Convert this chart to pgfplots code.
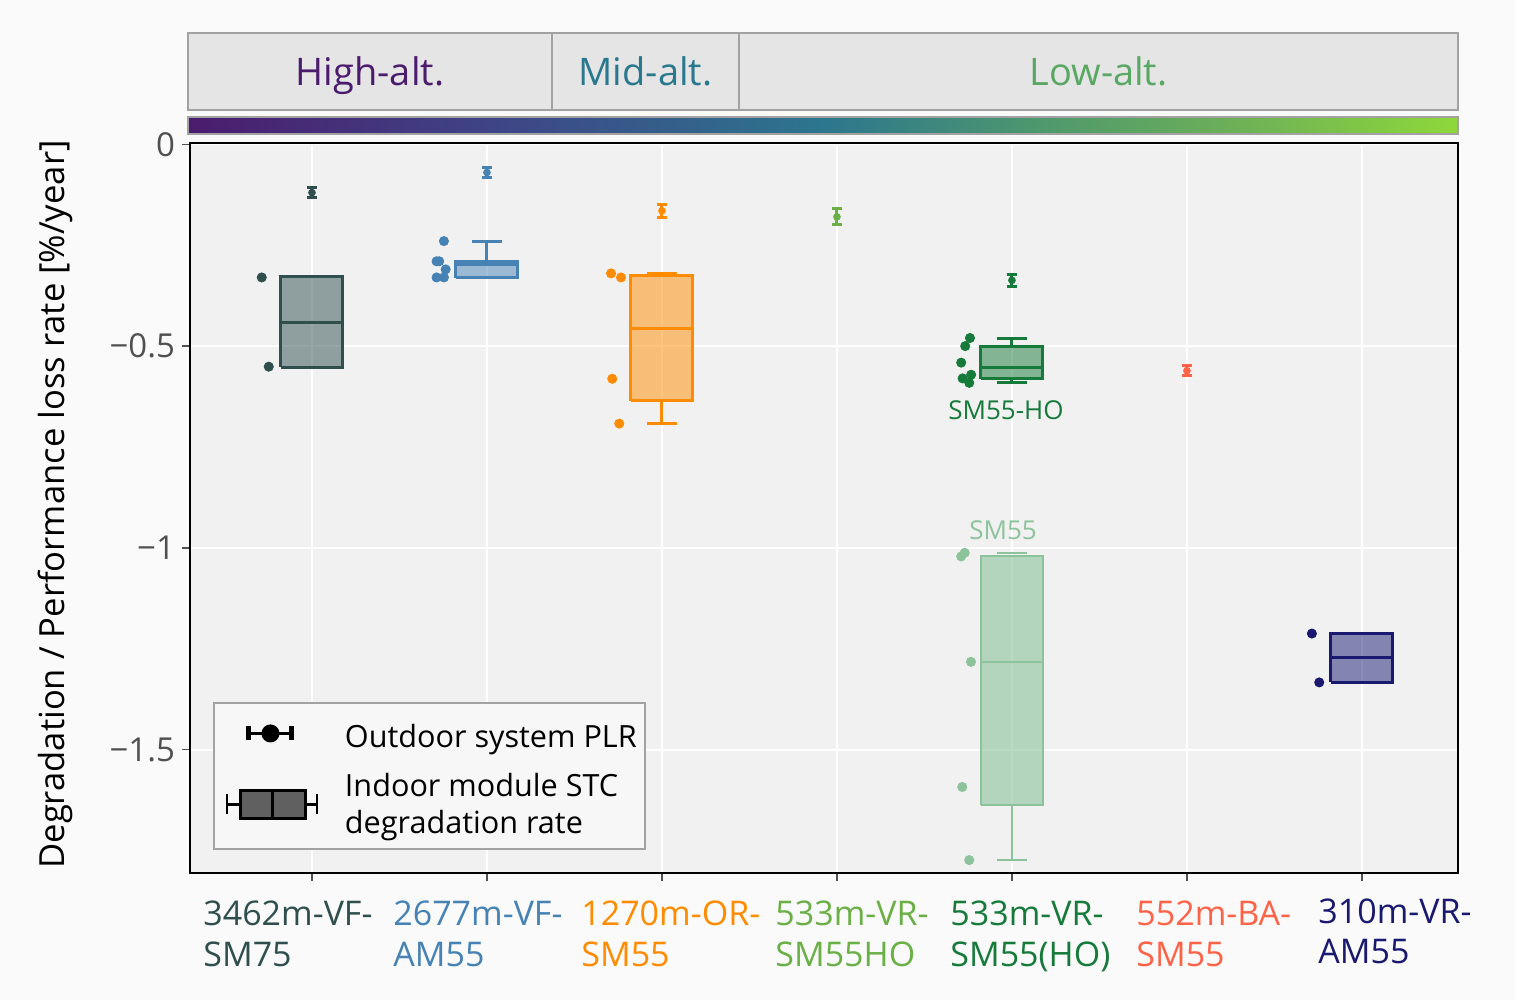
\documentclass[border=0pt]{standalone}
\usepackage{fontspec}
\setmainfont{Open Sans}
\usepackage{pgfplots}
\pgfplotsset{compat=1.18}

\definecolor{plotbg}{RGB}{241,241,241}
\definecolor{pagebg}{RGB}{250,250,250}
\definecolor{hdrbg}{RGB}{229,229,229}
\definecolor{hdrln}{RGB}{162,162,162}
\definecolor{legbg}{RGB}{247,247,247}
\definecolor{tickc}{RGB}{80,80,80}
\definecolor{cA}{RGB}{47,79,79}
\definecolor{cB}{RGB}{70,130,180}
\definecolor{cC}{RGB}{255,140,0}
\definecolor{cD}{RGB}{106,176,70}
\definecolor{cE}{RGB}{22,122,58}
\definecolor{cEl}{RGB}{140,195,155}
\definecolor{cF}{RGB}{255,99,71}
\definecolor{cG}{RGB}{25,25,112}
\definecolor{hiC}{RGB}{75,28,110}
\definecolor{miC}{RGB}{42,120,142}
\definecolor{loC}{RGB}{88,168,100}

% colour bar above the panel (purple -> lime)
\pgfdeclarehorizontalshading{altbar}{100bp}{%
  rgb(0bp)=(0.294,0.110,0.431); rgb(25bp)=(0.294,0.110,0.431);
  rgb(37.5bp)=(0.243,0.275,0.529); rgb(50bp)=(0.173,0.463,0.557);
  rgb(58.5bp)=(0.306,0.596,0.431); rgb(66bp)=(0.424,0.686,0.345);
  rgb(75bp)=(0.557,0.847,0.227); rgb(100bp)=(0.557,0.847,0.227)}

\newcommand{\catfont}{\fontsize{17}{20}\selectfont}

\pgfplotsset{
  box/.style={line width=1.5pt, fill=#1, fill opacity=0.5, draw=#1, line join=miter},
  wsk/.style={line width=1.5pt, draw=#1, unbounded coords=jump},
  pts/.style={only marks, mark=*, mark size=2.3pt, color=#1},
  plr/.style={color=#1, only marks, mark=*, mark size=1.7pt,
    error bars/.cd, y dir=both, y explicit,
    error bar style={line width=1.5pt, #1},
    error mark options={rotate=90, mark size=2.7pt, line width=1.5pt, #1}},
}

\begin{document}
\begin{tikzpicture}
\useasboundingbox (-95pt,-63.5pt) rectangle (662.5pt,436.5pt);
\fill[pagebg] (-95pt,-63.5pt) rectangle (662.5pt,436.5pt);

\begin{axis}[
    at={(0,0)}, anchor=south west,
    scale only axis, width=634pt, height=365pt,
    xmin=-0.697, xmax=6.549,
    ymin=-1.805, ymax=0.003,
    axis background/.style={fill=plotbg},
    axis line style={black, line width=1.25pt},
    grid=major,
    major grid style={white, line width=1pt},
    xtick={0,1,2,3,4,5,6}, xticklabels={},
    ytick={-1.5,-1,-0.5,0},
    yticklabels={−1.5,−1,−0.5,0},
    xtick pos=left, ytick pos=left,
    tick align=outside, major tick length=4pt,
    tick style={tickc, line width=0.6pt},
    yticklabel style={font=\fontsize{16.5}{20}\selectfont, text=tickc},
    clip=false,
    legend style={at={(axis description cs:0.0181,0.0315)}, anchor=south west,
        fill=legbg, draw=hdrln, line width=1pt,
        font=\fontsize{15.3}{18.5}\selectfont,
        inner xsep=2pt, inner ysep=4.5pt, row sep=7pt},
    legend cell align=left,
]

% legend symbols
\addlegendimage{legend image code/.code={
    \path[draw=none, fill=none] (-4.5pt,-7pt) rectangle (57pt,7pt);
    \draw[black, line width=1.5pt] (11pt,0pt) -- (32.5pt,0pt);
    \draw[black, line width=2.5pt] (11pt,-3.5pt) -- (11pt,3.5pt);
    \draw[black, line width=2.5pt] (32.5pt,-3.5pt) -- (32.5pt,3.5pt);
    \fill[black] (21.75pt,0pt) circle (4pt);
}}
\addlegendentry{\rule{0pt}{15.8pt}Outdoor system PLR}
\addlegendimage{legend image code/.code={
    \path[draw=none, fill=none] (-4.5pt,-7pt) rectangle (57pt,7pt);
    \draw[black, line width=1.2pt] (0pt,-5pt) -- (0pt,5pt) (0pt,0pt) -- (7pt,0pt)
        (39.5pt,0pt) -- (45pt,0pt) (45pt,-5pt) -- (45pt,5pt);
    \draw[black, line width=1.5pt, fill={rgb,255:red,96;green,96;blue,96}] (7pt,-7pt) rectangle (39.5pt,7pt);
    \draw[black, line width=1.5pt] (23pt,-7pt) -- (23pt,7pt);
}}
\addlegendentry[align=left]{Indoor module STC\\degradation rate}

% ---- 3462m-VF-SM75  (box q1=-0.553, median=-0.441, q3=-0.328)
\addplot[box=cA] coordinates {(-0.177,-0.553) (0.177,-0.553) (0.177,-0.328) (-0.177,-0.328) (-0.177,-0.553)};
\addplot[wsk=cA] coordinates {(-0.177,-0.441) (0.177,-0.441)};
\addplot[pts=cA] coordinates {(-0.287,-0.330) (-0.247,-0.551)};
\addplot[plr=cA] coordinates {(0,-0.120) +- (0,0.012)};

% ---- 2677m-VF-AM55  (q1=-0.331, median=-0.298, q3=-0.290, upper whisker=-0.240)
\addplot[box=cB] coordinates {(0.823,-0.331) (1.177,-0.331) (1.177,-0.290) (0.823,-0.290) (0.823,-0.331)};
\addplot[wsk=cB] coordinates {(0.823,-0.298) (1.177,-0.298) (nan,nan)
    (1,-0.290) (1,-0.240) (nan,nan) (0.915,-0.240) (1.085,-0.240)};
\addplot[pts=cB] coordinates {
    (0.754,-0.240) (0.712,-0.290) (0.727,-0.290) (0.764,-0.310) (0.712,-0.330) (0.754,-0.330)};
\addplot[plr=cB] coordinates {(1,-0.070) +- (0,0.012)};

% ---- 1270m-OR-SM55  (whiskers -0.692 / -0.320, q1=-0.636, median=-0.456, q3=-0.324)
\addplot[box=cC] coordinates {(1.823,-0.636) (2.177,-0.636) (2.177,-0.324) (1.823,-0.324) (1.823,-0.636)};
\addplot[wsk=cC] coordinates {(1.823,-0.456) (2.177,-0.456) (nan,nan)
    (2,-0.636) (2,-0.692) (nan,nan) (1.915,-0.692) (2.085,-0.692) (nan,nan)
    (1.915,-0.320) (2.085,-0.320)};
\addplot[pts=cC] coordinates {(1.709,-0.320) (1.766,-0.330) (1.716,-0.581) (1.756,-0.692)};
\addplot[plr=cC] coordinates {(2,-0.165) +- (0,0.016)};

% ---- 533m-VR-SM55HO
\addplot[plr=cD] coordinates {(3,-0.180) +- (0,0.020)};

% ---- 533m-VR-SM55(HO): SM55 (light), whiskers -1.773 / -1.012
\addplot[box=cEl, line width=1pt, fill opacity=0.6] coordinates {
    (3.823,-1.637) (4.177,-1.637) (4.177,-1.020) (3.823,-1.020) (3.823,-1.637)};
\addplot[wsk=cEl, line width=1pt] coordinates {(3.823,-1.283) (4.177,-1.283) (nan,nan)
    (4,-1.637) (4,-1.773) (nan,nan) (3.915,-1.773) (4.085,-1.773) (nan,nan)
    (3.915,-1.012) (4.085,-1.012)};
\addplot[pts=cEl] coordinates {(3.710,-1.021) (3.730,-1.012) (3.766,-1.282) (3.716,-1.592) (3.756,-1.773)};
% SM55-HO, whiskers -0.591 / -0.480
\addplot[box=cE] coordinates {(3.823,-0.581) (4.177,-0.581) (4.177,-0.500) (3.823,-0.500) (3.823,-0.581)};
\addplot[wsk=cE] coordinates {(3.823,-0.554) (4.177,-0.554) (nan,nan)
    (4,-0.500) (4,-0.480) (nan,nan) (3.915,-0.480) (4.085,-0.480) (nan,nan)
    (4,-0.581) (4,-0.591) (nan,nan) (3.915,-0.591) (4.085,-0.591)};
\addplot[pts=cE] coordinates {
    (3.760,-0.480) (3.733,-0.500) (3.710,-0.541) (3.718,-0.580) (3.767,-0.571) (3.756,-0.591)};
\addplot[plr=cE] coordinates {(4,-0.337) +- (0,0.015)};
\node[text=cE, font=\fontsize{13}{15}\selectfont] at (axis cs:3.966,-0.658) {SM55-HO};
\node[text=cEl, font=\fontsize{13}{15}\selectfont] at (axis cs:3.949,-0.955) {SM55};

% ---- 552m-BA-SM55
\addplot[plr=cF] coordinates {(5,-0.561) +- (0,0.012)};

% ---- 310m-VR-AM55  (q1=-1.333, median=-1.271, q3=-1.212)
\addplot[box=cG] coordinates {(5.823,-1.333) (6.177,-1.333) (6.177,-1.212) (5.823,-1.212) (5.823,-1.333)};
\addplot[wsk=cG] coordinates {(5.823,-1.271) (6.177,-1.271)};
\addplot[pts=cG] coordinates {(5.714,-1.212) (5.756,-1.333)};

\end{axis}

% header: altitude groups and colour bar
\draw[hdrln, line width=1pt, fill=hdrbg] (-1pt,381.5pt) rectangle (634pt,420pt);
\draw[hdrln, line width=1pt] (181pt,381.5pt) -- (181pt,420pt) (274.5pt,381.5pt) -- (274.5pt,420pt);
\node[anchor=base, text=hiC, font=\fontsize{19}{22}\selectfont] at (90pt,393.6pt) {High-alt.};
\node[anchor=base, text=miC, font=\fontsize{19}{22}\selectfont] at (227.75pt,393.6pt) {Mid-alt.};
\node[anchor=base, text=loC, font=\fontsize{19}{22}\selectfont] at (454.25pt,393.6pt) {Low-alt.};
\shade[shading=altbar] (-1pt,369.5pt) rectangle (634pt,378pt);
\draw[hdrln, line width=0.6pt] (-1pt,369.5pt) rectangle (634pt,378pt);

% y label
\node[rotate=90, anchor=base, font=\fontsize{17.3}{20}\selectfont] at (-62.5pt,184.25pt)
    {Degradation / Performance loss rate [\%/year]};

% category labels
\begin{scope}[every node/.style={anchor=base west, inner sep=0pt, font=\catfont}]
\node[text=cA] at (6.5pt,-26.2pt) {3462m-VF-};   \node[text=cA] at (6.5pt,-46.9pt) {SM75};
\node[text=cB] at (101.5pt,-26.2pt) {2677m-VF-}; \node[text=cB] at (101.5pt,-46.9pt) {AM55};
\node[text=cC] at (195.5pt,-26.2pt) {1270m-OR-}; \node[text=cC] at (195.5pt,-46.9pt) {SM55};
\node[text=cD] at (292.5pt,-26.2pt) {533m-VR-};  \node[text=cD] at (292.5pt,-46.9pt) {SM55HO};
\node[text=cE] at (380pt,-26.2pt) {533m-VR-};    \node[text=cE] at (380pt,-46.9pt) {SM55(HO)};
\node[text=cF] at (473pt,-26.2pt) {552m-BA-};    \node[text=cF] at (473pt,-46.9pt) {SM55};
\node[text=cG] at (564pt,-25.2pt) {310m-VR-};    \node[text=cG] at (564pt,-45.2pt) {AM55};
\end{scope}
\end{tikzpicture}
\end{document}
